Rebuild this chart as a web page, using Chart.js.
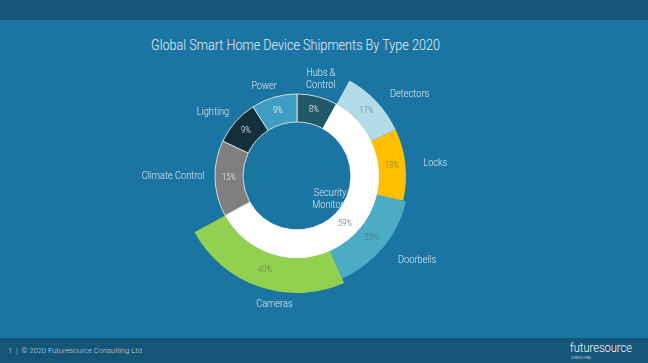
<!DOCTYPE html>
<html>
<head>
<meta charset="utf-8">
<script src="https://cdn.jsdelivr.net/npm/chart.js@4.4.0/dist/chart.umd.min.js"></script>
<style>
  html, body { margin: 0; padding: 0; }
  body { width: 648px; height: 363px; background: #1b75a3; position: relative; overflow: hidden; font-family: Roboto, sans-serif; }
  #topbar { position: absolute; left: 0; top: 0; width: 648px; height: 20px; background: #155578; }
  #footer { position: absolute; left: 0; top: 338px; width: 648px; height: 25px; background: #155578; }
  .fit { position: absolute; white-space: nowrap; transform-origin: 0 0; }
  #title { left: 151px; top: 36px; color: #e4eef4; font-size: 15px; font-weight: 300; }
  #copy { left: 8px; top: 346px; color: #c6d7e2; font-size: 8px; font-weight: 300; }
  #logo { left: 570px; top: 341px; color: #ffffff; font-size: 12px; font-weight: 300; }
  #logo2 { left: 571px; top: 355px; color: #c6d7e2; font-size: 4px; }
  canvas { position: absolute; left: 0; top: 0; }
</style>
</head>
<body>
<div id="topbar"></div>
<div id="footer"></div>
<div id="title" class="fit" data-w="289">Global Smart Home Device Shipments By Type 2020</div>
<div id="copy" class="fit" data-w="134">1 &nbsp;| &nbsp;© 2020 Futuresource Consulting Ltd</div>
<div id="logo" class="fit" data-w="62">futuresource</div>
<div id="logo2" class="fit" data-w="20">CONSULTING</div>
<canvas id="donut" width="648" height="363"></canvas>
<script>
// inner ring (share of all shipments, %)
const ringLabels = ["Hubs &\nControl", "Security &\nMonitoring", "Climate Control", "Lighting", "Power"];
const ringShares = [8, 59, 15, 9, 9];
// breakdown of Security & Monitoring (%)
const securityLabels = ["Detectors", "Locks", "Doorbells", "Cameras"];
const securityShares = [17, 18, 25, 40];

const ringColors = ["#21596b", "#ffffff", "#7f7f7f", "#132f3b", "#3d9ec3"];
const ringBorders = ["#d8d8d8", "#ffffff", "#d8d8d8", "#d8d8d8", "#d8d8d8"];
const ringPctColors = ["#ffffff", "#6a6a6a", "#eeeeee", "#ffffff", "#ffffff"];
const securityColors = ["#b3dbe8", "#ffc000", "#4bacc6", "#92d050"];
// how far each breakdown slice reaches outside the ring (px)
const securityReach = [27, 27, 30, 35];
// label nudges from the default anchor
const ringNameNudge = [[-2, 4], [6, -8], [-20, -3], [-6, 5], [-4, 10]];
const securityNameNudge = [[17, 8], [8, 1], [17, -1], [22, -3]];

const nameColor = "#d9e9f2";
const secIdx = 1;
const secTotal = ringShares[secIdx];
const before = ringShares.slice(0, secIdx).reduce((a, b) => a + b, 0);
const after = ringShares.slice(secIdx + 1).reduce((a, b) => a + b, 0);

// outer dataset: spacer, security slices scaled into the 59%, spacer
const outerData = [before].concat(securityShares.map(v => v * secTotal / 100), [after]);
const outerColors = ["rgba(0,0,0,0)"].concat(securityColors, ["rgba(0,0,0,0)"]);

function drawText(ctx, text, x, y, size, color, squeeze, weight) {
  const lines = text.split("\n");
  ctx.save();
  ctx.font = (weight || 400) + " " + size + "px Roboto";
  ctx.fillStyle = color;
  ctx.textAlign = "center";
  ctx.textBaseline = "middle";
  const lh = size * 1.05;
  lines.forEach((ln, i) => {
    ctx.save();
    ctx.translate(x, y + (i - (lines.length - 1) / 2) * lh);
    ctx.scale(squeeze, 1);
    ctx.fillText(ln, 0, 0);
    ctx.restore();
  });
  ctx.restore();
}

function nameAnchor(arc, gap) {
  const a = (arc.startAngle + arc.endAngle) / 2;
  const r = arc.outerRadius + gap;
  return [arc.x + r * Math.cos(a), arc.y + r * Math.sin(a)];
}

const shapeAndLabels = {
  id: "shapeAndLabels",
  beforeDatasetsDraw(chart) {
    const ctx = chart.ctx;
    const outer = chart.getDatasetMeta(0);
    outer.data.forEach((arc, i) => {
      if (i >= 1 && i <= securityShares.length) {
        arc.outerRadius = arc.innerRadius + securityReach[i - 1];
      }
    });
    // the security caption sits under the white ring
    const sec = chart.getDatasetMeta(1).data[secIdx];
    const a = (sec.startAngle + sec.endAngle) / 2;
    const r = sec.innerRadius - 10;
    drawText(ctx, ringLabels[secIdx], sec.x + r * Math.cos(a) + ringNameNudge[secIdx][0],
      sec.y + r * Math.sin(a) + ringNameNudge[secIdx][1], 11, nameColor, 0.84, 300);
  },
  afterDatasetsDraw(chart) {
    const ctx = chart.ctx;
    const inner = chart.getDatasetMeta(1);
    inner.data.forEach((arc, i) => {
      const c = arc.getCenterPoint();
      drawText(ctx, ringShares[i] + "%", c.x, c.y, 9, ringPctColors[i], 0.85, 300);
      if (i !== secIdx) {
        const p = nameAnchor(arc, 22);
        drawText(ctx, ringLabels[i], p[0] + ringNameNudge[i][0], p[1] + ringNameNudge[i][1], 11, nameColor, 0.84, 300);
      }
    });
    const outer = chart.getDatasetMeta(0);
    securityShares.forEach((v, k) => {
      const arc = outer.data[k + 1];
      const c = arc.getCenterPoint();
      drawText(ctx, v + "%", c.x, c.y, 9, "rgba(85,85,85,0.7)", 0.85, 300);
      const p = nameAnchor(arc, 22);
      drawText(ctx, securityLabels[k], p[0] + securityNameNudge[k][0], p[1] + securityNameNudge[k][1], 11, nameColor, 0.84, 300);
    });
  }
};

new Chart(document.getElementById("donut"), {
  type: "doughnut",
  data: {
    labels: ["", ...securityLabels, ""],
    datasets: [
      {
        data: outerData,
        backgroundColor: outerColors,
        borderWidth: 0,
        weight: 35,
      },
      {
        data: ringShares,
        backgroundColor: ringColors,
        borderColor: ringBorders,
        borderWidth: 1,
        weight: 28,
      },
    ],
  },
  options: {
    responsive: false,
    animation: false,
    radius: 117,
    cutout: "46.15%",
    layout: { padding: { left: 0, right: 54, top: 0, bottom: 11 } },
    plugins: {
      legend: { display: false },
      tooltip: { enabled: false },
    },
  },
  plugins: [shapeAndLabels],
});

// squeeze slide texts to their widths
document.querySelectorAll(".fit").forEach(el => {
  const w = el.getBoundingClientRect().width;
  el.style.transform = "scaleX(" + (+el.dataset.w / w) + ")";
});
</script>
</body>
</html>
